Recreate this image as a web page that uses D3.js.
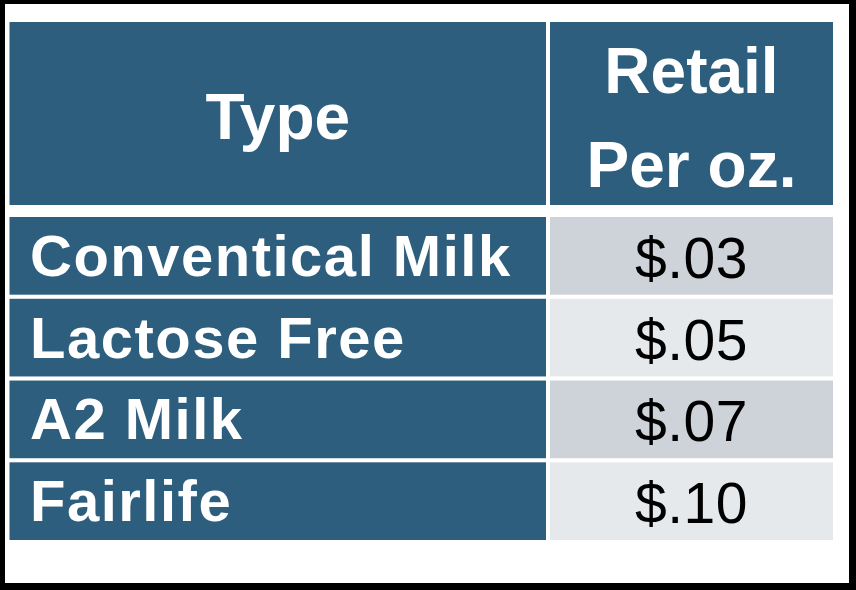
<!DOCTYPE html>
<html>
<head>
<meta charset="utf-8">
<script src="https://cdn.jsdelivr.net/npm/d3@7"></script>
<style>
  html, body { margin: 0; padding: 0; background: #000; }
  svg { display: block; }
</style>
</head>
<body>
<script>
// table data
var headers = ["Type", ["Retail", "Per oz."]];
var types = ["Conventical Milk", "Lactose Free", "A2 Milk", "Fairlife"];
var prices = [0.03, 0.05, 0.07, 0.10];

var width = 856, height = 590;

// colours
var blue = "#2E5E7E",
    stripe = ["#CED3DA", "#E6E9EC"];

// column edges
var left = 9.5, split = 546, gap = 4, right = 833;

// rows of the body
var y = d3.scaleBand()
    .domain(types)
    .range([217, 540])
    .paddingInner(0.05);

var headTop = 22, headBottom = 205;

var fmt = d => "$" + d3.format(".2f")(d).replace(/^0/, "");

var svg = d3.select("body").append("svg")
    .attr("width", width)
    .attr("height", height);

// white card inside the black frame
svg.append("rect")
    .attr("x", 5).attr("y", 4)
    .attr("width", 844).attr("height", 579)
    .attr("fill", "#fff");

// header cells
svg.append("rect")
    .attr("x", left).attr("y", headTop)
    .attr("width", split - left).attr("height", headBottom - headTop)
    .attr("fill", blue);
svg.append("rect")
    .attr("x", split + gap).attr("y", headTop)
    .attr("width", right - split - gap).attr("height", headBottom - headTop)
    .attr("fill", blue);

svg.append("text")
    .attr("x", (left + split) / 2)
    .attr("y", 139)
    .attr("text-anchor", "middle")
    .style("font", "bold 64px 'Liberation Sans', Arial, sans-serif")
    .attr("fill", "#fff")
    .text(headers[0]);

svg.append("g").selectAll("text")
    .data(headers[1])
  .enter().append("text")
    .attr("x", (split + gap + right) / 2)
    .attr("y", (d, i) => 93 + i * 94)
    .attr("text-anchor", "middle")
    .style("font", "bold 64px 'Liberation Sans', Arial, sans-serif")
    .attr("fill", "#fff")
    .text(d => d);

// body rows
var rows = svg.selectAll(".row")
    .data(types.map((t, i) => ({type: t, price: prices[i]})))
  .enter().append("g")
    .attr("class", "row")
    .attr("transform", d => "translate(0," + y(d.type) + ")");

rows.append("rect")
    .attr("x", left)
    .attr("width", split - left)
    .attr("height", y.bandwidth())
    .attr("fill", blue);

rows.append("rect")
    .attr("x", split + gap)
    .attr("width", right - split - gap)
    .attr("height", y.bandwidth())
    .attr("fill", (d, i) => stripe[i % 2]);

rows.append("text")
    .attr("x", 30)
    .attr("y", y.bandwidth() / 2 + 20)
    .style("font", "bold 58px 'Liberation Sans', Arial, sans-serif")
    .style("letter-spacing", "1.5px")
    .attr("fill", "#fff")
    .text(d => d.type);

rows.append("text")
    .attr("x", (split + gap + right) / 2)
    .attr("y", y.bandwidth() / 2 + 22)
    .attr("text-anchor", "middle")
    .style("font", "57px 'Liberation Sans', Arial, sans-serif")
    .style("letter-spacing", "0.5px")
    .attr("fill", "#000")
    .text(d => fmt(d.price));
</script>
</body>
</html>
